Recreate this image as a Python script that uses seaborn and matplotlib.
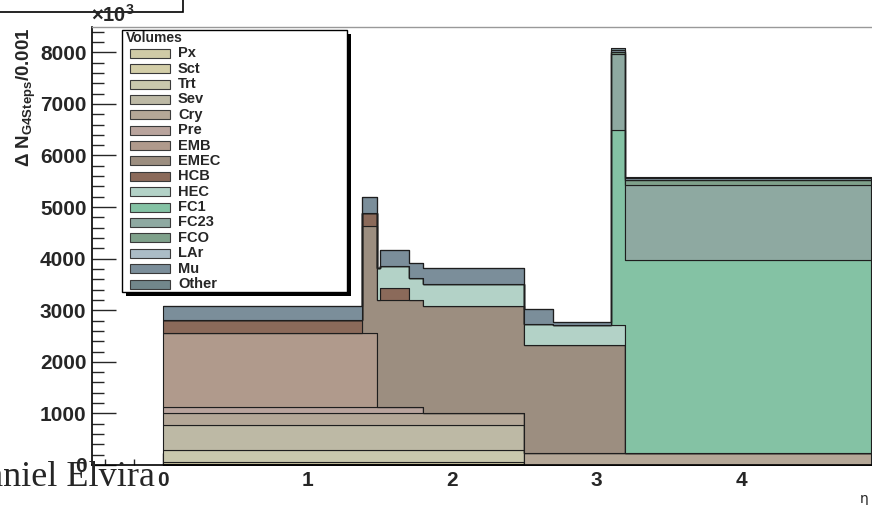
import numpy as np
import pandas as pd
import matplotlib
matplotlib.use("Agg")
import matplotlib.pyplot as plt
from matplotlib.patches import Rectangle
from matplotlib.ticker import MultipleLocator
import seaborn as sns

# ----------------------------
# Data
# ----------------------------
EDGES = [0.0, 1.38, 1.48, 1.50, 1.70, 1.80, 2.50, 2.70, 3.10, 3.20, 4.90]

VOLUMES = ["Px", "Sct", "Trt", "Sev", "Cry", "Pre", "EMB", "EMEC", "HCB",
           "HEC", "FC1", "FC23", "FCO", "LAr", "Mu", "Other"]

px = [25, 25, 25, 25, 25, 25, 0, 0, 0, 0]
sct = [35, 35, 35, 35, 35, 35, 0, 0, 0, 0]
trt = [237, 237, 237, 237, 237, 237, 0, 0, 0, 0]
sev = [471, 471, 471, 471, 471, 471, 0, 0, 0, 0]
cry = [238, 238, 238, 238, 238, 238, 238, 238, 238, 238]
pre = [114, 114, 114, 114, 114, 0, 0, 0, 0, 0]
emb = [1438, 1438, 0, 0, 0, 0, 0, 0, 0, 0]
emec = [0, 2080, 2080, 2080, 2080, 2080, 2080, 2080, 2080, 0]
hcb = [255, 250, 0, 240, 0, 0, 0, 0, 0, 0]
hec = [0, 0, 620, 425, 430, 415, 420, 405, 405, 0]
fc1 = [0, 0, 0, 0, 0, 0, 0, 0, 3765, 3742]
fc23 = [0, 0, 0, 0, 0, 0, 0, 0, 1480, 1445]
fco = [0, 0, 0, 0, 0, 0, 0, 0, 40, 105]
lar = [0, 0, 0, 0, 0, 0, 0, 0, 0, 0]
mu = [270, 305, 0, 295, 285, 310, 290, 49, 43, 30]
other = [0, 0, 0, 0, 0, 0, 0, 0, 37, 20]

SERIES = [px, sct, trt, sev, cry, pre, emb, emec, hcb, hec,
          fc1, fc23, fco, lar, mu, other]

COLORS = ["#cfcaa6", "#d3cea8", "#c9c8ad", "#bdb9a5", "#b4a797", "#b9a49d",
          "#b09a8c", "#9c8e80", "#8b6a5a", "#b3d2c7", "#84c2a4", "#8ea9a1",
          "#7fa18b", "#abbcc6", "#7b8e9a", "#72878b"]

X_TICKS = [0, 1, 2, 3, 4]
Y_TICKS = [0, 1000, 2000, 3000, 4000, 5000, 6000, 7000, 8000]

# ----------------------------
# Long table for seaborn
# ----------------------------
centres = [(a + b) / 2 for a, b in zip(EDGES[:-1], EDGES[1:])]
rows = []
for name, vals in zip(VOLUMES, SERIES):
    for c, v in zip(centres, vals):
        rows.append({"eta": c, "steps": v, "volume": name})
df = pd.DataFrame(rows)
palette = dict(zip(VOLUMES, COLORS))

# ----------------------------
# Figure
# ----------------------------
sns.set_style("white")
plt.rcParams["font.family"] = ["Liberation Sans", "DejaVu Sans"]
plt.rcParams["mathtext.fontset"] = "custom"
plt.rcParams["mathtext.rm"] = "Liberation Sans:bold"
plt.rcParams["mathtext.bf"] = "Liberation Sans:bold"
plt.rcParams["mathtext.it"] = "Liberation Sans:bold"

W, H = 872, 505
fig = plt.figure(figsize=(W / 100, H / 100), dpi=100)


def fx(p):
    return p / W


def fy(p):
    return 1 - p / H


ax = fig.add_axes([fx(92), fy(465), fx(872) - fx(92), fy(27) - fy(465)])

# seaborn stacks the first hue level on top, so reverse the order
sns.histplot(data=df, x="eta", weights="steps", hue="volume",
             hue_order=VOLUMES[::-1], palette=palette, bins=EDGES,
             multiple="stack", element="step", fill=True, alpha=1,
             edgecolor="#1e1e1e", linewidth=0.8, legend=False, ax=ax)

ax.set_xlim(-0.491, 4.907)
ax.set_ylim(0, 8490)
ax.set_xlabel("")
ax.set_ylabel("")

ax.xaxis.set_minor_locator(MultipleLocator(0.2))
ax.yaxis.set_minor_locator(MultipleLocator(200))
ax.set_xticks(X_TICKS)
ax.set_yticks(Y_TICKS)
ax.set_xticklabels([str(t) for t in X_TICKS])
ax.set_yticklabels([str(t) for t in Y_TICKS])

ax.tick_params(axis="x", which="major", direction="in", length=9, width=1,
               labelsize=15, pad=4, top=False, bottom=True)
ax.tick_params(axis="x", which="minor", direction="in", length=4.5, width=1,
               top=False, bottom=True)
ax.tick_params(axis="y", which="major", direction="in", length=17, width=1,
               labelsize=15, pad=4, right=False, left=True)
ax.tick_params(axis="y", which="minor", direction="in", length=8.5, width=1,
               right=False, left=True)
for lab in ax.get_xticklabels() + ax.get_yticklabels():
    lab.set_fontweight("bold")

for side in ["left", "bottom"]:
    ax.spines[side].set_color("black")
    ax.spines[side].set_linewidth(1.2)
ax.spines["top"].set_color("#999999")
ax.spines["top"].set_linewidth(1.0)
ax.spines["right"].set_visible(False)
for sp in ax.spines.values():
    sp.set_zorder(5)

# ×10^3 multiplier
fig.text(fx(91), fy(22), r"$\times$10$^{3}$", fontsize=14.5,
         fontweight="bold", ha="left", va="baseline")

# y axis label
fig.text(fx(38), fy(27), r"$\Delta$ N$_{\mathrm{G4Steps}}$/0.001", rotation=90,
         fontsize=13.5, fontweight="bold", ha="right", va="top")

# eta label
fig.text(fx(860), fy(503), "η", fontsize=10, family="DejaVu Sans",
         ha="left", va="baseline")

# author text, cut at the left edge
fig.text(fx(155), fy(486), "Daniel Elvira", fontsize=26,
         family="Liberation Serif", ha="right", va="baseline", zorder=10)

# cut-off box at the top
fig.add_artist(Rectangle((fx(-5), fy(12)), fx(188), fy(0) - fy(12) + 0.02,
                         transform=fig.transFigure, facecolor="white",
                         edgecolor="black", linewidth=1.2))

# ----------------------------
# Legend (ROOT style with shadow)
# ----------------------------
lx0, ly0, lx1, ly1 = 122, 30, 347, 292
fig.add_artist(Rectangle((fx(lx0 + 4), fy(ly1 + 4)), fx(lx1 - lx0), fy(ly0) - fy(ly1),
                         transform=fig.transFigure, facecolor="black",
                         edgecolor="black", linewidth=0, zorder=20))
fig.add_artist(Rectangle((fx(lx0), fy(ly1)), fx(lx1 - lx0), fy(ly0) - fy(ly1),
                         transform=fig.transFigure, facecolor="white",
                         edgecolor="black", linewidth=1.0, zorder=21))
fig.text(fx(126), fy(38), "Volumes", fontsize=10, fontweight="bold",
         ha="left", va="center", zorder=22)
for i, (name, col) in enumerate(zip(VOLUMES, COLORS)):
    yc = 53.3 + i * 15.38
    fig.add_artist(Rectangle((fx(129.5), fy(yc + 4.5)), fx(40), fy(yc - 4.5) - fy(yc + 4.5),
                             transform=fig.transFigure, facecolor=col,
                             edgecolor="#3a3a3a", linewidth=0.8, zorder=22))
    fig.text(fx(178), fy(yc), name, fontsize=10.5, fontweight="bold",
             ha="left", va="center", zorder=22)

fig.savefig("out.png", dpi=100)
